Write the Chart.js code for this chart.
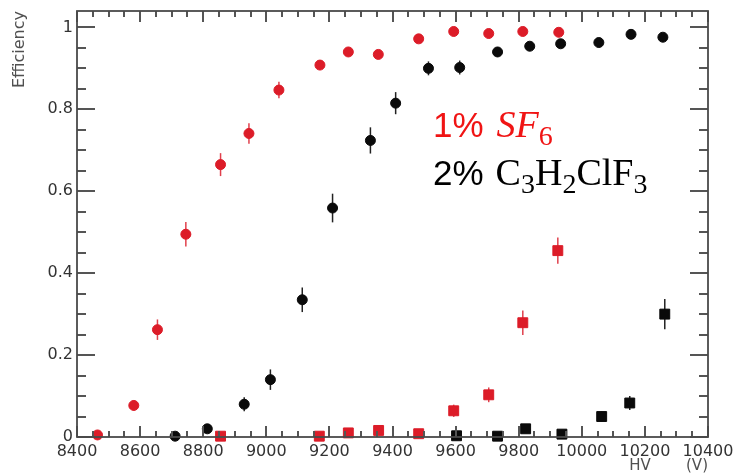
<!DOCTYPE html>
<html><head><meta charset="utf-8">
<script src="https://cdn.jsdelivr.net/npm/chart.js@4"></script>
<style>
html,body{margin:0;padding:0;background:#fff;}
#wrap{position:relative;width:735px;height:474px;overflow:hidden;background:#fff;}
canvas{position:absolute;left:0;top:0;}
.leg{position:absolute;left:433px;white-space:nowrap;line-height:40px;font-family:'Liberation Sans',Arial,sans-serif;font-size:35px;}
.leg span{line-height:40px;}
.ser{font-family:'Liberation Serif','Times New Roman',serif;font-size:38px;}
.sub{font-family:'Liberation Serif','Times New Roman',serif;font-size:28px;position:relative;top:8px;}
</style></head>
<body>
<div id="wrap">
<canvas id="c" width="735" height="474"></canvas>
<div class="leg" style="top:104px;color:#f01414;">1%<span class="ser" style="font-style:italic;margin-left:13px;">SF</span><span class="sub">6</span></div>
<div class="leg" style="top:152px;color:#000;">2%<span class="ser" style="margin-left:12px;">C</span><span class="sub">3</span><span class="ser">H</span><span class="sub">2</span><span class="ser">ClF</span><span class="sub">3</span></div>
</div>
<script>
// ---- data ----
const redCircleHV  = [8465, 8580, 8655, 8745, 8855, 8945, 9040, 9170, 9260, 9355, 9483, 9594, 9705, 9813, 9927];
const redCircleEff = [0.005, 0.077, 0.262, 0.495, 0.665, 0.741, 0.847, 0.908, 0.940, 0.934, 0.972, 0.990, 0.985, 0.990, 0.988];
const redCircleErr = [0.004, 0.012, 0.025, 0.030, 0.028, 0.025, 0.020, 0.012, 0.010, 0.010, 0.007, 0.005, 0.005, 0.005, 0.005];

const redSquareHV  = [8855, 9168, 9260, 9356, 9483, 9594, 9705, 9813, 9924];
const redSquareEff = [0.002, 0.002, 0.010, 0.016, 0.008, 0.064, 0.103, 0.279, 0.455];
const redSquareErr = [0.003, 0.003, 0.006, 0.008, 0.005, 0.015, 0.018, 0.030, 0.032];

const blackCircleHV  = [8711, 8813, 8930, 9013, 9114, 9210, 9330, 9410, 9514, 9613, 9733, 9835, 9933, 10054, 10156, 10257];
const blackCircleEff = [0.002, 0.020, 0.080, 0.140, 0.335, 0.559, 0.724, 0.815, 0.900, 0.902, 0.940, 0.954, 0.960, 0.963, 0.983, 0.976];
const blackCircleErr = [0.003, 0.008, 0.017, 0.025, 0.030, 0.035, 0.032, 0.027, 0.017, 0.017, 0.012, 0.010, 0.010, 0.010, 0.008, 0.008];

const blackSquareHV  = [9603, 9733, 9822, 9937, 10063, 10152, 10263];
const blackSquareEff = [0.003, 0.002, 0.020, 0.007, 0.050, 0.083, 0.300];
const blackSquareErr = [0.003, 0.003, 0.008, 0.005, 0.012, 0.017, 0.037];

const xTickValues = [8400, 8600, 8800, 9000, 9200, 9400, 9600, 9800, 10000, 10200, 10400];
const xTickLabels = ['8400','8600','8800','9000','9200','9400','9600','9800','10000','10200','10400'];
const yTickValues = [0, 0.2, 0.4, 0.6, 0.8, 1];
const yTickLabels = ['0','0.2','0.4','0.6','0.8','1'];
const xMinorStep = 50, yMinorStep = 0.05;

const RED = '#dc1c28', BLACK = '#0a0a0a';

function pts(xs, ys){ return xs.map((v,i)=>({x:v, y:ys[i]})); }

const errorBars = {
  id:'errorBars',
  beforeDatasetsDraw(chart){
    const {ctx, scales:{x, y}} = chart;
    ctx.save();
    ctx.lineWidth = 1.5;
    chart.data.datasets.forEach(ds=>{
      ctx.strokeStyle = ds.errColor;
      ds.data.forEach((p,i)=>{
        const e = ds.errors[i];
        const px = x.getPixelForValue(p.x);
        ctx.beginPath();
        ctx.moveTo(px, y.getPixelForValue(p.y - e));
        ctx.lineTo(px, y.getPixelForValue(p.y + e));
        ctx.stroke();
      });
    });
    ctx.restore();
  }
};

const frameTicks = {
  id:'frameTicks',
  afterDraw(chart){
    const {ctx, chartArea:a, scales:{x, y}} = chart;
    ctx.save();
    ctx.strokeStyle = '#555555';
    ctx.lineWidth = 2;
    ctx.beginPath();
    // x ticks (inward, bottom and top)
    for (let k = 0; x.min + k * xMinorStep <= x.max + 1e-6; k++){
      const v = x.min + k * xMinorStep;
      const px = Math.round(x.getPixelForValue(v));
      const L = (k % 4 === 0) ? 11 : 6;
      ctx.moveTo(px, a.bottom); ctx.lineTo(px, a.bottom - L);
      ctx.moveTo(px, a.top); ctx.lineTo(px, a.top + L);
    }
    // y ticks (inward, left and right)
    for (let k = 0; k * yMinorStep <= 1.0001; k++){
      const py = Math.round(y.getPixelForValue(k * yMinorStep));
      const L = (k % 4 === 0) ? 18 : 9;
      ctx.moveTo(a.left, py); ctx.lineTo(a.left + L, py);
      ctx.moveTo(a.right, py); ctx.lineTo(a.right - L, py);
    }
    ctx.stroke();
    // frame
    ctx.strokeStyle = '#4a4a4a';
    ctx.lineWidth = 1.8;
    ctx.strokeRect(a.left, a.top, a.right - a.left, a.bottom - a.top);
    // x axis title
    ctx.fillStyle = '#505050';
    ctx.font = '15px "DejaVu Sans"';
    ctx.textAlign = 'center';
    ctx.textBaseline = 'alphabetic';
    ctx.fillText('HV', 640, 470);
    ctx.fillText('(V)', 697, 470);
    ctx.restore();
  }
};

new Chart(document.getElementById('c'), {
  type:'scatter',
  data:{
    datasets:[
      {data:pts(redCircleHV, redCircleEff), errors:redCircleErr, errColor:'#e0404c', pointStyle:'circle', radius:5, backgroundColor:RED, borderColor:RED, borderWidth:1},
      {data:pts(redSquareHV, redSquareEff), errors:redSquareErr, errColor:'#e0404c', pointStyle:'rect', radius:7, backgroundColor:RED, borderColor:RED, borderWidth:1},
      {data:pts(blackCircleHV, blackCircleEff), errors:blackCircleErr, errColor:'#222', pointStyle:'circle', radius:5, backgroundColor:BLACK, borderColor:BLACK, borderWidth:1},
      {data:pts(blackSquareHV, blackSquareEff), errors:blackSquareErr, errColor:'#222', pointStyle:'rect', radius:7, backgroundColor:BLACK, borderColor:BLACK, borderWidth:1}
    ]
  },
  options:{
    responsive:false,
    animation:false,
    devicePixelRatio:1,
    clip:false,
    layout:{padding:{top:11, right:27, left:0, bottom:0}},
    plugins:{legend:{display:false}, tooltip:{enabled:false}},
    elements:{point:{hoverRadius:5}},
    scales:{
      x:{
        type:'linear', min:8400, max:10400,
        grid:{display:false, drawTicks:false},
        border:{display:false},
        afterBuildTicks(s){ s.ticks = xTickValues.map(v=>({value:v})); },
        afterFit(s){ s.height = 37; s.paddingLeft = 0; s.paddingRight = 0; },
        ticks:{
          autoSkip:false, maxRotation:0, minRotation:0, padding:5,
          color:'#333', font:{family:'DejaVu Sans', size:16},
          callback(v){ const i = xTickValues.indexOf(v); return i >= 0 ? xTickLabels[i] : ''; }
        }
      },
      y:{
        type:'linear', min:0, max:1.04,
        grid:{display:false, drawTicks:false},
        border:{display:false},
        afterBuildTicks(s){ s.ticks = yTickValues.map(v=>({value:v})); },
        afterFit(s){ s.width = 77; s.paddingTop = 0; s.paddingBottom = 0; },
        title:{display:true, text:'Efficiency', align:'end', color:'#505050', font:{family:'DejaVu Sans', size:16}, padding:{top:10, bottom:0}},
        ticks:{
          autoSkip:false, padding:4,
          color:'#333', font:{family:'DejaVu Sans', size:16},
          callback(v){ const i = yTickValues.indexOf(v); return i >= 0 ? yTickLabels[i] : ''; }
        }
      }
    }
  },
  plugins:[errorBars, frameTicks]
});
</script>
</body></html>
